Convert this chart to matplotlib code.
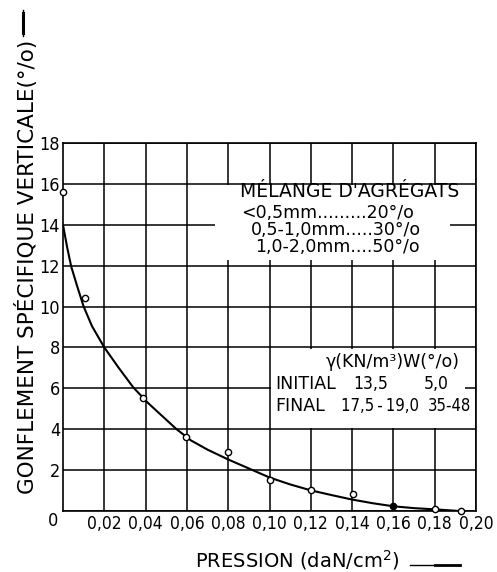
import matplotlib
matplotlib.use("Agg")
import matplotlib.pyplot as plt
from matplotlib.patches import Rectangle
from matplotlib.lines import Line2D
from matplotlib import font_manager
from matplotlib.font_manager import FontProperties

# ---- data ----
pression = [0.0, 0.0106, 0.0387, 0.0595, 0.08, 0.10, 0.12, 0.1405, 0.16, 0.18, 0.1925]
gonflement = [15.6, 10.44, 5.55, 3.6, 2.9, 1.54, 1.01, 0.85, 0.26, 0.08, 0.0]
filled = [False, False, False, False, False, False, False, False, True, False, False]

# hand-drawn fitted curve
curve_x = [0.000, 0.002, 0.004, 0.007, 0.010, 0.014, 0.020, 0.027, 0.034, 0.041,
           0.048, 0.055, 0.062, 0.070, 0.080, 0.090, 0.100, 0.110, 0.120, 0.130,
           0.140, 0.150, 0.160, 0.170, 0.180, 0.192]
curve_y = [14.0, 12.9, 11.95, 10.95, 10.0, 9.05, 8.0, 7.0, 6.05, 5.3,
           4.65, 4.0, 3.45, 3.0, 2.52, 2.08, 1.64, 1.3, 1.01, 0.78,
           0.56, 0.38, 0.23, 0.14, 0.08, 0.0]

x_ticks = [0.02, 0.04, 0.06, 0.08, 0.10, 0.12, 0.14, 0.16, 0.18, 0.20]
x_ticklabels = ["0,02", "0,04", "0,06", "0,08", "0,10", "0,12", "0,14", "0,16", "0,18", "0,20"]
y_ticks = [0, 2, 4, 6, 8, 10, 12, 14, 16, 18]
y_ticklabels = ["", "2", "4", "6", "8", "10", "12", "14", "16", "18"]

melange_lines = ["MÉLANGE D'AGRÉGATS", "<0,5mm.........20°/o", "0,5-1,0mm.....30°/o", "1,0-2,0mm....50°/o"]
table_header = "γ(KN/m³)W(°/o)"
table_rows = [["INITIAL", "13,5", "5,0"], ["FINAL", "17,5\u2009-\u200919,0", "35-48"]]

# pick a narrow font for numbers if one is installed
narrow = None
prefs = ["DejaVuSansCondensed.ttf", "LiberationSansNarrow-Regular.ttf",
         "RobotoCondensed-Regular.ttf", "OpenSans_Condensed-Regular.ttf"]
files = {f.fname.split("/")[-1]: f.fname for f in font_manager.fontManager.ttflist}
for p in prefs:
    if p in files:
        narrow = files[p]
        break
if narrow is None:
    for name, path in files.items():
        if ("Condensed" in name or "Narrow" in name) and not any(
                k in name for k in ("Bold", "Italic", "Oblique", "Light", "Thin", "Medium", "Semi", "Black", "Extra")):
            narrow = path
            break


def nfont(size):
    if narrow:
        return FontProperties(fname=narrow, size=size)
    return FontProperties(family="DejaVu Sans", size=size * 0.88)


W, H = 497, 572
fig = plt.figure(figsize=(W / 100, H / 100), dpi=100)
ax = fig.add_axes([63 / W, 1 - 511 / H, (476 - 63) / W, (511 - 143) / H])
ax.set_xlim(0, 0.20)
ax.set_ylim(0, 18)
ax.set_axisbelow(True)
ax.grid(True, color="black", lw=1.1)
for s in ax.spines.values():
    s.set_linewidth(1.2)

ax.set_xticks(x_ticks)
ax.set_xticklabels(x_ticklabels)
for lab in ax.get_xticklabels():
    lab.set_fontproperties(nfont(12.5))
ax.set_yticks(y_ticks)
ax.set_yticklabels(y_ticklabels)
for lab in ax.get_yticklabels():
    lab.set_fontproperties(nfont(13))
ax.tick_params(length=0)
ax.tick_params(axis="x", pad=3)
ax.tick_params(axis="y", pad=2)

# white boxes covering the grid
ax.add_patch(Rectangle((0.0737, 12.3), 0.1873 - 0.0737, 15.93 - 12.3,
                       facecolor="white", edgecolor="none", zorder=1))
ax.add_patch(Rectangle((0.1005, 4.07), 0.1946 - 0.1005, 7.93 - 4.07,
                       facecolor="white", edgecolor="none", zorder=1))

ax.plot(curve_x, curve_y, color="black", lw=1.5, zorder=3,
        solid_joinstyle="round", solid_capstyle="round")
for x, y, f in zip(pression, gonflement, filled):
    ax.plot([x], [y], marker="o", ms=4.5, mew=1.0, mec="black",
            mfc="black" if f else "white", ls="none", zorder=4, clip_on=False)

# mixture text
mel_x = [0.139, 0.128, 0.132, 0.133]
mel_y = [15.65, 14.6, 13.75, 12.9]
mel_size = [13.5, 12.5, 12.5, 12.5]
for t, x, y, s in zip(melange_lines, mel_x, mel_y, mel_size):
    ax.text(x, y, t, ha="center", va="center", fontsize=s, zorder=5)

ax.text(0.1273, 7.3, table_header, ha="left", va="center", fontsize=12.5, zorder=5)
row_y = [6.2, 5.12]
row_col_x = [[0.1029, 0.1405, 0.1746], [0.1029, 0.1346, 0.1765]]
row_num_size = [12.5, 12]
for row, y, cx, ns in zip(table_rows, row_y, row_col_x, row_num_size):
    ax.text(cx[0], y, row[0], ha="left", va="center", fontsize=12.5, zorder=5)
    for t, x in zip(row[1:], cx[1:]):
        ax.text(x, y, t, ha="left", va="center", fontproperties=nfont(ns), zorder=5)

# corner 0
fig.text(53 / W, 1 - 521 / H, "0", ha="center", va="center", fontproperties=nfont(13))

# axis labels
fig.text(297 / W, 1 - 560 / H, "PRESSION (daN/cm$^2$)", ha="center", va="center", fontsize=14)
fig.add_artist(Line2D([410 / W, 440 / W], [1 - 565 / H, 1 - 565 / H], color="black", lw=1.0))
fig.add_artist(Line2D([435 / W, 460 / W], [1 - 565 / H, 1 - 565 / H], color="black", lw=2.0))

fig.text(27 / W, 1 - 267 / H, "GONFLEMENT SPÉCIFIQUE VERTICALE(°/o)", rotation=90,
         ha="center", va="center", fontsize=15.5)
fig.add_artist(Line2D([23 / W, 23 / W], [1 - 36 / H, 1 - 10 / H], color="black", lw=1.0))
fig.add_artist(Line2D([23 / W, 23 / W], [1 - 33 / H, 1 - 13 / H], color="black", lw=2.2))

fig.savefig("out.png", dpi=100)
